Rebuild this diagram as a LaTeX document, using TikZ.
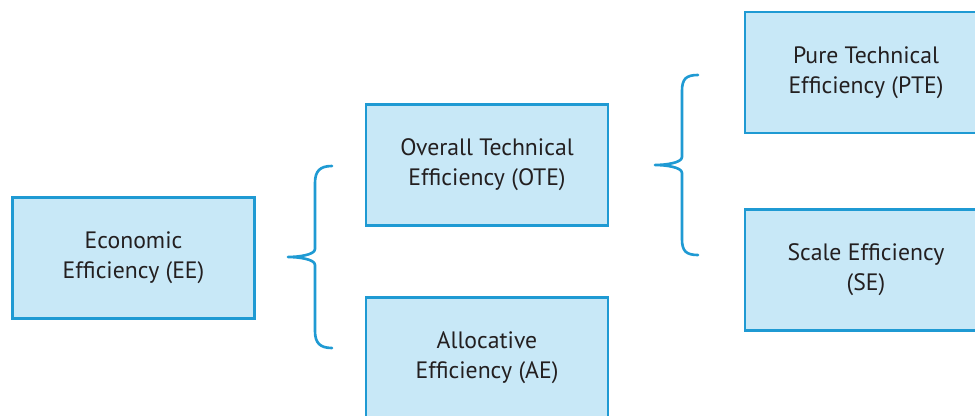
\documentclass[tikz,border=0pt]{standalone}
\usepackage{fontspec}
\setmainfont{PT Sans}
\usepackage{tikz}
\usetikzlibrary{positioning}
\definecolor{effline}{HTML}{1F9AD3}
\definecolor{efffill}{HTML}{C8E8F7}
\definecolor{efftext}{HTML}{231F20}

\begin{document}
\begin{tikzpicture}[x=0.02cm,y=-0.02cm,
effbox/.style={draw=effline,fill=efffill,line width=1.4pt,
  minimum width=4.84cm,minimum height=2.42cm,align=center,
  text=efftext,font=\fontsize{13.5}{17}\selectfont},
grp/.style={draw=effline,line width=1.5pt,line cap=round,line join=round}]
\useasboundingbox (0,0) rectangle (975,416);
\clip (0,0) rectangle (975,416);
% boxes
\node[effbox] (ee) at (133.5,258) {Economic\\Efficiency (EE)};
\node[effbox] (ote) at (487,165) {Overall Technical\\Efficiency (OTE)};
\node[effbox] (ae) at (487,358) {Allocative\\Efficiency (AE)};
\node[effbox] (pte) at (866,72.5) {Pure Technical\\Efficiency (PTE)};
\node[effbox] (se) at (866,270) {Scale Efficiency\\(SE)};
% braces
\coordinate (eetop) at (332,166);
\coordinate (otetop) at (698,75);
\draw[grp] (eetop) .. controls +(-12,0) and +(0,-12) .. ++(-17,17)
  -- ++(0,66) .. controls +(0,6) and +(10,0) .. ++(-27,8)
  .. controls +(10,0) and +(0,-6) .. ++(27,8)
  -- ++(0,66) .. controls +(0,12) and +(-12,0) .. ++(17,17);
\draw[grp] (otetop) .. controls +(-12,0) and +(0,-12) .. ++(-16,16)
  -- ++(0,66) .. controls +(0,6) and +(10,0) .. ++(-27,8)
  .. controls +(10,0) and +(0,-6) .. ++(27,8)
  -- ++(0,66) .. controls +(0,12) and +(-12,0) .. ++(16,16);
\end{tikzpicture}
\end{document}
